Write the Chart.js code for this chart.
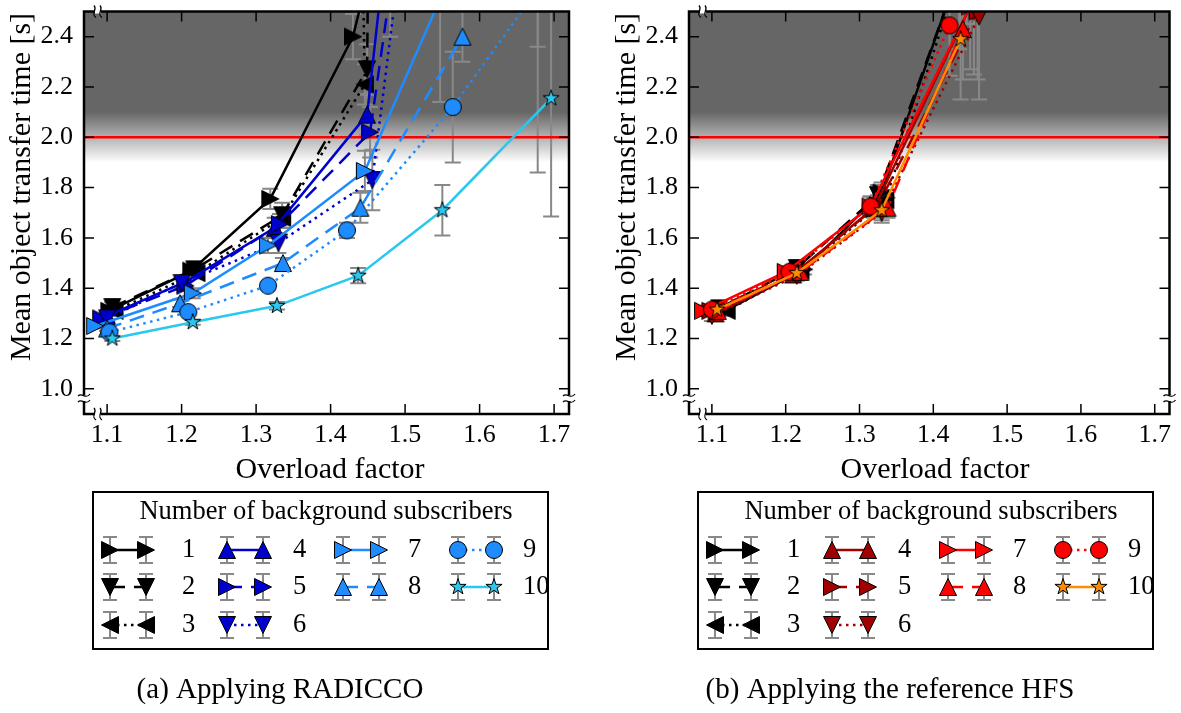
<!DOCTYPE html>
<html>
<head>
<meta charset="utf-8">
<script src="https://cdn.jsdelivr.net/npm/chart.js@4.4.1/dist/chart.umd.min.js"></script>
<style>
  html, body { margin: 0; padding: 0; background: #fff; overflow: hidden; }
  #wrap { position: relative; width: 1181px; height: 713px; }
  canvas { position: absolute; top: 0; }
  #radicco { left: 0; }
  #hfs { left: 605px; }
</style>
</head>
<body>
<div id="wrap">
  <canvas id="radicco" width="600" height="713"></canvas>
  <canvas id="hfs" width="576" height="713"></canvas>
</div>
<script>
const xTicks = [1.1, 1.2, 1.3, 1.4, 1.5, 1.6, 1.7];
const yTicks = [1.0, 1.2, 1.4, 1.6, 1.8, 2.0, 2.2, 2.4];
const seriesLabels = ['1', '2', '3', '4', '5', '6', '7', '8', '9', '10'];

// RADICCO: overload factor, mean transfer time and error half-width per subscriber count
const radiccoX = [
  [1.103, 1.213, 1.319, 1.430, 1.480],
  [1.107, 1.217, 1.335, 1.449, 1.452],
  [1.110, 1.220, 1.335, 1.446, 1.440],
  [1.100, 1.205, 1.325, 1.449, 1.483],
  [1.092, 1.205, 1.332, 1.453, 1.500],
  [1.100, 1.200, 1.330, 1.456, 1.510],
  [1.084, 1.215, 1.316, 1.446, 1.547, 1.678],
  [1.100, 1.198, 1.336, 1.440, 1.577],
  [1.103, 1.209, 1.316, 1.422, 1.564, 1.678],
  [1.107, 1.215, 1.328, 1.437, 1.550, 1.696]
];
const radiccoY = [
  [1.31, 1.47, 1.755, 2.40, 3.0],
  [1.325, 1.475, 1.69, 2.27, 3.2],
  [1.31, 1.46, 1.68, 2.21, 3.2],
  [1.29, 1.425, 1.64, 2.09, 3.0],
  [1.28, 1.41, 1.655, 2.02, 3.0],
  [1.28, 1.42, 1.58, 1.83, 3.1],
  [1.25, 1.38, 1.57, 1.866, 2.55, 3.2],
  [1.24, 1.34, 1.50, 1.72, 2.40],
  [1.225, 1.305, 1.41, 1.63, 2.12, 2.59],
  [1.20, 1.265, 1.33, 1.45, 1.71, 2.155]
];
const radiccoErr = [
  [0.02, 0.025, 0.04, 0.09, 0.6],
  [0.02, 0.025, 0.05, 0.10, 0.7],
  [0.02, 0.02, 0.04, 0.08, 0.6],
  [0.015, 0.02, 0.04, 0.08, 0.5],
  [0.015, 0.02, 0.04, 0.10, 0.5],
  [0.015, 0.02, 0.04, 0.12, 0.5],
  [0.01, 0.02, 0.03, 0.08, 0.41, 1.34],
  [0.01, 0.015, 0.02, 0.06, 0.10],
  [0.01, 0.01, 0.015, 0.03, 0.22, 0.23],
  [0.01, 0.01, 0.015, 0.03, 0.10, 0.47]
];

// reference HFS
const hfsX = [
  [1.118, 1.225, 1.330, 1.445],
  [1.110, 1.215, 1.325, 1.440],
  [1.120, 1.220, 1.335, 1.435],
  [1.105, 1.210, 1.320, 1.455],
  [1.098, 1.215, 1.325, 1.460],
  [1.100, 1.215, 1.330, 1.462],
  [1.088, 1.200, 1.315, 1.450],
  [1.108, 1.220, 1.338, 1.440],
  [1.100, 1.205, 1.315, 1.422],
  [1.107, 1.215, 1.330, 1.437]
];
const hfsY = [
  [1.31, 1.475, 1.78, 2.75],
  [1.32, 1.48, 1.77, 2.70],
  [1.31, 1.47, 1.75, 2.65],
  [1.30, 1.455, 1.72, 2.55],
  [1.31, 1.465, 1.73, 2.50],
  [1.29, 1.45, 1.70, 2.48],
  [1.31, 1.465, 1.725, 2.52],
  [1.31, 1.465, 1.72, 2.43],
  [1.315, 1.465, 1.725, 2.445],
  [1.315, 1.46, 1.71, 2.39]
];
const hfsErr = [
  [0.02, 0.02, 0.04, 0.30],
  [0.02, 0.02, 0.04, 0.30],
  [0.02, 0.02, 0.04, 0.30],
  [0.02, 0.02, 0.04, 0.30],
  [0.02, 0.02, 0.04, 0.27],
  [0.02, 0.02, 0.04, 0.33],
  [0.02, 0.02, 0.04, 0.25],
  [0.02, 0.02, 0.04, 0.20],
  [0.02, 0.02, 0.04, 0.20],
  [0.02, 0.02, 0.04, 0.24]
];

const radiccoColors = ['#000000', '#000000', '#000000', '#0000cd', '#0000cd', '#0000cd',
  '#1e8cff', '#1e8cff', '#1e8cff', '#2ac8ee'];
const hfsColors = ['#000000', '#000000', '#000000', '#a00000', '#a00000', '#a00000',
  '#ff0000', '#ff0000', '#ff0000', '#ff8c00'];
const shapes = ['right', 'down', 'left', 'up', 'right', 'down', 'right', 'up', 'circle', 'star'];
const dashes = [[], [15, 9], [2.5, 4.5], [], [15, 9], [2.5, 4.5], [], [15, 9], [2.5, 4.5], []];

const SERIF = '"Liberation Serif", "Times New Roman", serif';

function makeMarker(shape, fill) {
  const c = document.createElement('canvas');
  c.width = 24;
  c.height = 24;
  const g = c.getContext('2d');
  const h = 8.5;
  g.translate(12, 12);
  g.beginPath();
  if (shape === 'circle') {
    g.arc(0, 0, h, 0, Math.PI * 2);
  } else if (shape === 'star') {
    for (let k = 0; k < 10; k++) {
      const r = k % 2 ? h * 0.382 : h;
      const a = -Math.PI / 2 + k * Math.PI / 5;
      g.lineTo(r * Math.cos(a), r * Math.sin(a));
    }
    g.closePath();
  } else {
    const tri = {
      up: [[0, -h], [h, h], [-h, h]],
      down: [[0, h], [h, -h], [-h, -h]],
      right: [[h, 0], [-h, h], [-h, -h]],
      left: [[-h, 0], [h, h], [h, -h]]
    }[shape];
    tri.forEach(([px, py], k) => (k ? g.lineTo(px, py) : g.moveTo(px, py)));
    g.closePath();
  }
  g.fillStyle = fill;
  g.fill();
  g.lineWidth = 1;
  g.strokeStyle = '#000';
  g.stroke();
  return c;
}

function buildSets(xs, ys, errs, colors) {
  return xs.map((xv, s) => ({
    label: seriesLabels[s],
    data: xv.map((v, i) => ({ x: v, y: ys[s][i] })),
    errors: errs[s],
    borderColor: colors[s],
    backgroundColor: colors[s],
    borderWidth: 2.5,
    borderDash: dashes[s],
    pointStyle: makeMarker(shapes[s], colors[s]),
    pointRadius: 9,
    fill: false,
    tension: 0,
    order: 9 - s
  }));
}

function drawBreak(ctx, x, y, rotate) {
  ctx.save();
  ctx.translate(x, y);
  if (rotate) ctx.rotate(Math.PI / 2);
  ctx.fillStyle = '#fff';
  ctx.fillRect(-2, -3, 4, 6);
  ctx.strokeStyle = '#000';
  ctx.lineWidth = 1.3;
  [-3, 3].forEach(d => {
    ctx.beginPath();
    ctx.moveTo(-6, d + 1);
    ctx.bezierCurveTo(-2, d - 3, 2, d + 5, 6, d - 1);
    ctx.stroke();
  });
  ctx.restore();
}

// legend grid: columns hold 3, 3, 2, 2 entries
const legendCol = [0, 0, 0, 1, 1, 1, 2, 2, 3, 3];
const legendRow = [0, 1, 2, 0, 1, 2, 0, 1, 0, 1];

const decor = {
  id: 'decor',
  beforeDatasetsDraw(chart) {
    const { ctx, chartArea: a, scales: { x, y } } = chart;
    ctx.save();
    ctx.beginPath();
    ctx.rect(a.left, a.top, a.width, a.height);
    ctx.clip();
    // shaded region above the 2 s limit
    const yHi = y.getPixelForValue(2.1), yLo = y.getPixelForValue(1.9);
    ctx.fillStyle = '#666666';
    ctx.fillRect(a.left, a.top, a.width, yHi - a.top + 2);
    const grad = ctx.createLinearGradient(0, yHi, 0, yLo);
    grad.addColorStop(0, '#666666');
    grad.addColorStop(1, '#ffffff');
    ctx.fillStyle = grad;
    ctx.fillRect(a.left, yHi, a.width, yLo - yHi);
    // error bars
    ctx.strokeStyle = '#888888';
    ctx.lineWidth = 2;
    chart.data.datasets.forEach(ds => ds.data.forEach((p, i) => {
      const px = x.getPixelForValue(p.x), e = ds.errors[i];
      const t = y.getPixelForValue(p.y + e), b = y.getPixelForValue(p.y - e);
      ctx.beginPath();
      ctx.moveTo(px, t); ctx.lineTo(px, b);
      ctx.moveTo(px - 8, t); ctx.lineTo(px + 8, t);
      ctx.moveTo(px - 8, b); ctx.lineTo(px + 8, b);
      ctx.stroke();
    }));
    const yr = y.getPixelForValue(2.0);
    ctx.strokeStyle = '#ff0000';
    ctx.lineWidth = 2.5;
    ctx.beginPath();
    ctx.moveTo(a.left, yr);
    ctx.lineTo(a.right, yr);
    ctx.stroke();
    ctx.restore();
  },
  afterDatasetsDraw(chart) {
    const { ctx, chartArea: a, scales: { x, y } } = chart;
    ctx.save();
    ctx.strokeStyle = '#000';
    ctx.lineWidth = 1.5;
    ctx.beginPath();
    xTicks.forEach(v => {
      const px = x.getPixelForValue(v);
      ctx.moveTo(px, a.bottom); ctx.lineTo(px, a.bottom - 10);
      ctx.moveTo(px, a.top); ctx.lineTo(px, a.top + 10);
    });
    yTicks.forEach(v => {
      const py = y.getPixelForValue(v);
      ctx.moveTo(a.left, py); ctx.lineTo(a.left + 10, py);
      ctx.moveTo(a.right, py); ctx.lineTo(a.right - 10, py);
    });
    ctx.stroke();
    ctx.lineWidth = 2.5;
    ctx.strokeRect(a.left, a.top, a.width, a.height);
    drawBreak(ctx, a.left, a.bottom - 16, false);
    drawBreak(ctx, a.right, a.bottom - 16, false);
    drawBreak(ctx, a.left + 14, a.bottom, true);
    drawBreak(ctx, a.left + 14, a.top, true);
    ctx.restore();
  },
  afterDraw(chart, args, opts) {
    const ctx = chart.ctx;
    ctx.save();
    ctx.fillStyle = '#000';
    ctx.textAlign = 'center';
    ctx.textBaseline = 'middle';
    ctx.font = '30px ' + SERIF;
    ctx.fillText('Overload factor', 330, 470);
    ctx.save();
    ctx.translate(22, 187);
    ctx.rotate(-Math.PI / 2);
    ctx.fillText('Mean object transfer time [s]', 0, 0);
    ctx.restore();

    // legend
    ctx.fillStyle = '#fff';
    ctx.fillRect(93, 492, 455, 157);
    ctx.strokeStyle = '#000';
    ctx.lineWidth = 2;
    ctx.strokeRect(93, 492, 455, 157);
    ctx.fillStyle = '#000';
    ctx.font = '26.5px ' + SERIF;
    ctx.fillText('Number of background subscribers', 326, 512);
    const colX = [110, 227, 343, 458], labX = [182, 293, 408, 523], rowY = [550, 587, 625];
    chart.data.datasets.forEach((ds, s) => {
      const m1 = colX[legendCol[s]], m2 = m1 + 36, yy = rowY[legendRow[s]];
      ctx.strokeStyle = '#888888';
      ctx.lineWidth = 2;
      ctx.setLineDash([]);
      [m1, m2].forEach(mx => {
        ctx.beginPath();
        ctx.moveTo(mx, yy - 13); ctx.lineTo(mx, yy + 13);
        ctx.moveTo(mx - 7, yy - 13); ctx.lineTo(mx + 7, yy - 13);
        ctx.moveTo(mx - 7, yy + 13); ctx.lineTo(mx + 7, yy + 13);
        ctx.stroke();
      });
      ctx.strokeStyle = ds.borderColor;
      ctx.lineWidth = 2.5;
      ctx.setLineDash(ds.borderDash);
      ctx.beginPath();
      ctx.moveTo(m1, yy);
      ctx.lineTo(m2, yy);
      ctx.stroke();
      ctx.setLineDash([]);
      [m1, m2].forEach(mx => ctx.drawImage(ds.pointStyle, mx - 12, yy - 12));
      ctx.fillStyle = '#000';
      ctx.textAlign = 'left';
      ctx.fillText(ds.label, labX[legendCol[s]], yy);
    });

    ctx.textAlign = 'center';
    ctx.font = '29px ' + SERIF;
    ctx.fillText(opts.caption, opts.captionX, 690);
    ctx.restore();
  }
};

function makeChart(id, sets, caption, captionX, padRight) {
  const tickFont = { family: SERIF, size: 26 };
  return new Chart(document.getElementById(id), {
    type: 'line',
    data: { datasets: sets },
    plugins: [decor],
    options: {
      responsive: false,
      animation: false,
      events: [],
      layout: { padding: { left: 0, top: 10, right: padRight, bottom: 0 } },
      plugins: {
        legend: { display: false },
        tooltip: { enabled: false },
        decor: { caption, captionX }
      },
      scales: {
        x: {
          type: 'linear',
          min: 1.069,
          max: 1.72,
          afterBuildTicks: s => { s.ticks = xTicks.map(v => ({ value: v })); },
          afterFit: s => { s.height = 299; s.paddingLeft = 0; s.paddingRight = 0; },
          grid: { display: false, drawTicks: false },
          border: { display: false },
          ticks: { font: tickFont, color: '#000', padding: 6, maxRotation: 0, autoSkip: false,
            callback: v => v.toFixed(1) }
        },
        y: {
          type: 'linear',
          min: 0.9,
          max: 2.5,
          afterBuildTicks: s => { s.ticks = yTicks.map(v => ({ value: v })); },
          afterFit: s => { s.width = 84; s.paddingTop = 0; s.paddingBottom = 0; },
          grid: { display: false, drawTicks: false },
          border: { display: false },
          ticks: { font: tickFont, color: '#000', padding: 11, callback: v => v.toFixed(1) }
        }
      }
    }
  });
}

makeChart('radicco', buildSets(radiccoX, radiccoY, radiccoErr, radiccoColors),
  '(a) Applying RADICCO', 280, 31);
makeChart('hfs', buildSets(hfsX, hfsY, hfsErr, hfsColors),
  '(b) Applying the reference HFS', 285, 7);
</script>
</body>
</html>
